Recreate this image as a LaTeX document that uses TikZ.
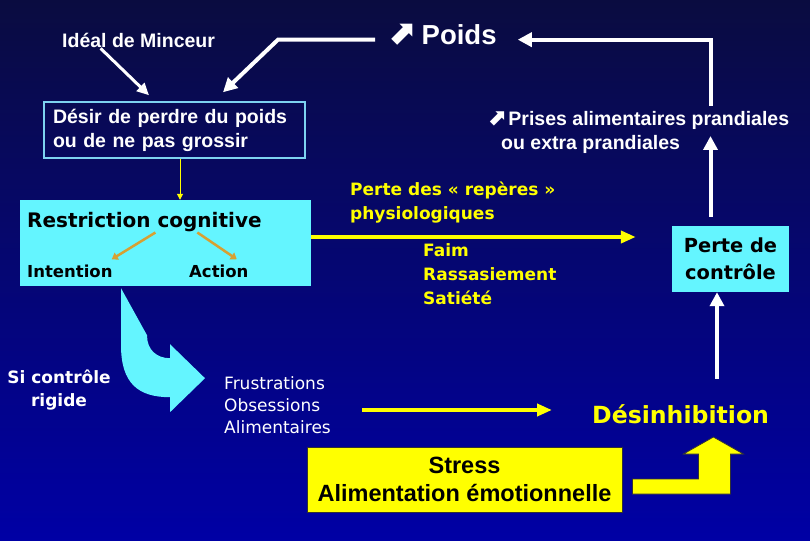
\documentclass[tikz,border=0pt]{standalone}
\usepackage{fontspec}
\setmainfont{Liberation Sans}
\newfontfamily\verdana{DejaVu Sans}
\usetikzlibrary{arrows.meta,positioning}

\definecolor{navytop}{RGB}{10,12,64}
\definecolor{navybot}{RGB}{0,0,165}
\definecolor{cyanbox}{RGB}{100,245,255}
\definecolor{cyanframe}{RGB}{125,210,240}
\definecolor{orangetip}{RGB}{215,160,50}
\definecolor{lemon}{RGB}{255,255,0}

\newcommand{\fsz}[2]{\fontsize{#1}{#2}\selectfont}
\newcommand{\hausse}[1]{\smash{\verdana\fsz{#1}{#1}⬈}}

\tikzset{
  txt/.style={inner sep=0pt, text=white},
  yel/.style={inner sep=0pt, text=lemon},
  blk/.style={inner sep=0pt, text=black},
  cyan block/.style={fill=cyanbox, inner sep=0pt},
  whitearrow/.style={draw=white, line width=4pt, -{Triangle[length=14pt,width=14pt]}},
  thinwhite/.style={draw=white, line width=3pt, -{Triangle[length=12pt,width=11pt]}},
  yellowarrow/.style={draw=lemon, line width=4.5pt, -{Triangle[length=15pt,width=12pt]}},
  yellowthin/.style={draw=lemon, line width=1pt, -{Triangle[length=6pt,width=6pt]}},
  orangearrow/.style={draw=orangetip, line width=2.5pt, -{Triangle[length=6pt,width=8pt]}},
}

\begin{document}
\begin{tikzpicture}[x=1pt,y=-1pt]
  \useasboundingbox (0,0) rectangle (810,540);
  \fill[top color=navytop, bottom color=navybot] (0,0) rectangle (810,540);

  % top row
  \node[txt, anchor=base west, font=\bfseries\fsz{19.5}{24}] (ideal) at (62,48) {Idéal de Minceur};
  \node[txt, anchor=base west, font=\bfseries\fsz{27.5}{30}] (poids) at (387,45) {\hausse{34}\hspace{6pt}Poids};
  \node[draw=cyanframe, line width=1.5pt, txt, font=\bfseries\fsz{19.5}{24}, align=left,
        text width=243pt, inner xsep=8pt, minimum width=261pt, minimum height=56pt] (desir) at (174.5,130)
        {Désir de perdre du poids\\ou de ne pas grossir};
  \node[txt, anchor=west, align=left, font=\bfseries\fsz{19.5}{24}] (prises) at (487,132)
        {\hausse{23}\hspace{2pt}Prises alimentaires prandiales\\\hspace*{14pt}ou extra prandiales};

  % restriction cognitive
  \node[cyan block, minimum width=291pt, minimum height=86pt] (restr) at (165.5,243) {};
  \node[blk, anchor=base west, font=\verdana\bfseries\fsz{20}{24}] (cogn) at (27,227) {Restriction cognitive};
  \node[blk, anchor=base west, font=\verdana\bfseries\fsz{16.5}{20}] (intent) at (27,277) {Intention};
  \node[blk, anchor=base west, font=\verdana\bfseries\fsz{16.5}{20}] (action) at (189,277) {Action};

  % signaux physiologiques
  \node[yel, anchor=west, align=left, font=\verdana\bfseries\fsz{17}{24}] (reperes) at (350,203)
        {Perte des «~repères~»\\physiologiques};
  \node[yel, anchor=west, align=left, font=\verdana\bfseries\fsz{17}{24}] (faim) at (423,274)
        {Faim\\Rassasiement\\Satiété};
  \node[cyan block, blk, align=center, font=\verdana\bfseries\fsz{19.4}{27},
        minimum width=117pt, minimum height=66pt] (perte) at (730.5,259) {Perte de\\contrôle};

  % bas
  \node[txt, align=center, font=\verdana\bfseries\fsz{17}{23}] (rigide) at (59,390) {Si contrôle\\rigide};
  \node[txt, anchor=west, align=left, font=\verdana\fsz{17}{22}] (frust) at (224,405)
        {Frustrations\\Obsessions\\Alimentaires};
  \node[yel, anchor=base west, font=\verdana\bfseries\fsz{23.6}{26}] (desinh) at (592,423) {Désinhibition};
  \node[fill=lemon, draw=black!80, line width=0.8pt, blk, align=center, font=\bfseries\fsz{23.5}{28},
        minimum width=315pt, minimum height=65pt] (stress) at (464.5,479.5)
        {Stress\\Alimentation émotionnelle};

  % connecteurs du haut
  \draw[thinwhite] ([xshift=-38pt]ideal.south) -- ([xshift=-25.5pt,yshift=6pt]desir.north);
  \coordinate (pl) at ([yshift=-4.5pt]poids.west);
  \draw[whitearrow, line join=miter, shorten <=12pt] (pl) -- ++(-109,0) -- ([xshift=48.5pt,yshift=9pt]desir.north);
  \coordinate (rx) at ([xshift=-20pt]perte.north);
  \coordinate (pr) at ([yshift=-4.5pt]poids.east);
  \draw[whitearrow, shorten <=9pt, shorten >=4pt] (rx) -- (rx |- prises.east);
  \draw[whitearrow, line join=miter, shorten >=21pt] ([yshift=5pt]rx |- prises.north) -- (rx |- pr) -- (pr);

  % connecteurs du milieu
  \draw[yellowthin] ([xshift=5.5pt]desir.south) -- ([xshift=5.5pt]desir.south |- restr.north);
  \draw[orangearrow] ([xshift=11pt,yshift=-1pt]cogn.south) -- ([xshift=-1pt,yshift=5pt]intent.north east);
  \draw[orangearrow] ([xshift=53pt,yshift=-1pt]cogn.south) -- ([xshift=18pt,yshift=5pt]action.north);
  \coordinate (fl) at ([yshift=6pt]restr.east);
  \draw[yellowarrow, shorten >=36pt] (fl) -- (fl -| perte.west);

  % grosse fleche courbe
  \fill[cyanbox] ([xshift=-44.5pt,yshift=-2pt]restr.south) -- ++(0,57)
     .. controls +(0,38) and +(-32,0) .. ++(49,52) -- ++(0,15) -- ++(35,-34) -- ++(-35,-34) -- ++(0,14)
     .. controls +(-13,0) and +(0,15) .. ++(-23,-23) -- cycle;

  % connecteurs du bas
  \coordinate (fa) at ([xshift=31pt,yshift=-5pt]frust.east);
  \draw[yellowarrow, shorten >=40pt] (fa) -- (fa -| desinh.west);
  \coordinate (dx) at ([xshift=-13.5pt]perte.south);
  \draw[whitearrow, shorten <=25pt] (dx |- desinh.north) -- (dx);
  \fill[lemon, draw=black!80, line width=0.8pt] ([xshift=10pt,yshift=0.5pt]stress.east) -- ++(66,0) -- ++(0,-25)
     -- ++(-15,0) -- ++(30,-17) -- ++(30,17) -- ++(-13,0) -- ++(0,40) -- ++(-98,0) -- cycle;
\end{tikzpicture}
\end{document}
